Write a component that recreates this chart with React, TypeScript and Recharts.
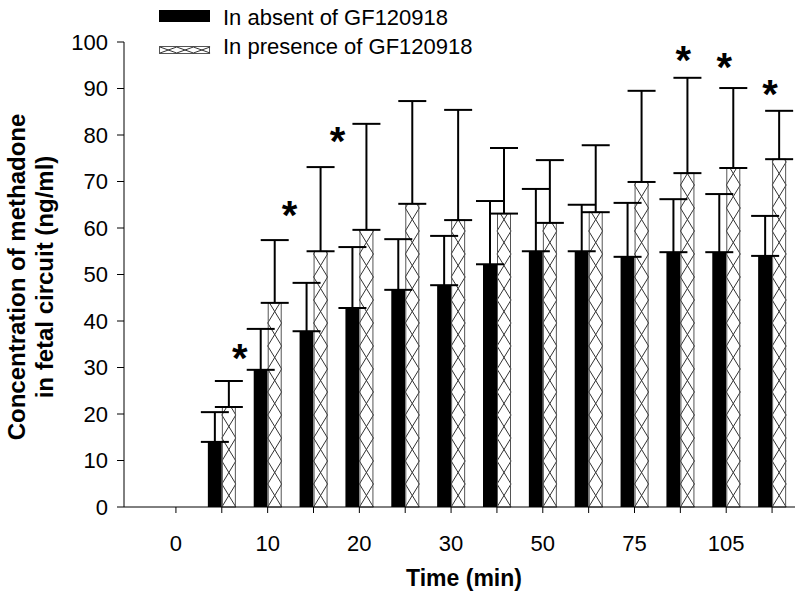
import React from 'react'
import { BarChart, Bar, XAxis, YAxis, ErrorBar, ReferenceDot } from 'recharts'

// sampling times (min), only every other one gets a label
const times = ['0', '5', '10', '15', '20', '25', '30', '40', '50', '60', '75', '90', '105', '120']
const tickLabels = ['0', '10', '20', '30', '50', '75', '105']
const yTicks = [0, 10, 20, 30, 40, 50, 60, 70, 80, 90, 100]

// means and SD (ng/ml)
const absentMean = [null, 14, 29.5, 37.8, 42.8, 46.7, 47.7, 52.2, 55, 55, 53.8, 54.8, 54.8, 54]
const absentSd = [null, 6.4, 8.8, 10.4, 13.1, 10.9, 10.6, 13.6, 13.4, 10, 11.6, 11.4, 12.5, 8.6]
const presenceMean = [null, 21.5, 43.9, 55, 59.6, 65.2, 61.7, 63.1, 61.1, 63.4, 69.9, 71.8, 72.9, 74.8]
const presenceSd = [null, 5.6, 13.5, 18.1, 22.8, 22.1, 23.7, 14.1, 13.5, 14.4, 19.6, 20.5, 17.2, 10.4]

// significance marks: time and height of the asterisk
const sigTimes = ['5', '10', '15', '90', '105', '120']
const sigLevels = [34, 64.7, 80.6, 98.1, 96.6, 90.8]
const sigNudge = [18, 22, 24, 3, -2, -2]

const data = times.map((t, i) => ({
  time: t,
  absent: absentMean[i],
  presence: presenceMean[i],
  absentErr: absentSd[i] == null ? null : [0, absentSd[i]],
  presenceErr: presenceSd[i] == null ? null : [0, presenceSd[i]],
}))

const FONT = '"Liberation Sans", Arial, Helvetica, sans-serif'

function crossHatch(x: number, y: number, w: number, h: number, step: number) {
  const bottom = y + h
  let d = ''
  for (let y0 = bottom; y0 > y + 0.01; y0 -= step) {
    const y1 = Math.max(y, y0 - step)
    const t = (y0 - y1) / step
    d += `M${x},${y0}L${x + t * w},${y1}M${x + w},${y0}L${x + w - t * w},${y1}`
  }
  return d
}

function HatchedBar(props: any) {
  const { x, y, width, height } = props
  if (!height || height <= 0) return null
  return (
    <g>
      <rect x={x} y={y} width={width} height={height} fill="#fff" />
      <path d={crossHatch(x, y, width, height, 23)} stroke="#333" strokeWidth={1} fill="none" />
      <rect x={x + 0.5} y={y} width={width - 1} height={height} fill="none" stroke="#555" strokeWidth={1} />
    </g>
  )
}

function TimeTick(props: any) {
  const { x, y, payload } = props
  if (!tickLabels.includes(payload.value)) return null
  return (
    <text x={x} y={y} dy="0.71em" textAnchor="middle" fontSize={22} fill="#000" fontFamily={FONT}>
      {payload.value}
    </text>
  )
}

function YTitle(props: any) {
  const cy = 277
  return (
    <g fontFamily={FONT} fontWeight="bold" fontSize={24} fill="#000">
      <text transform={`translate(25,${cy}) rotate(-90)`} textAnchor="middle">Concentration of methadone</text>
      <text transform={`translate(53,${cy}) rotate(-90)`} textAnchor="middle">in fetal circuit (ng/ml)</text>
    </g>
  )
}

function XTitle(props: any) {
  return (
    <text x={464} y={586} textAnchor="middle" fontFamily={FONT} fontWeight="bold" fontSize={23} fill="#000">
      Time (min)
    </text>
  )
}

function Star(props: any) {
  const { cx, cy, nudge } = props
  return (
    <text x={cx + nudge} y={cy + 23} textAnchor="middle" fontFamily={FONT} fontWeight="bold" fontSize={40} fill="#000">
      *
    </text>
  )
}

function LegendBox() {
  return (
    <svg width={800} height={70} style={{ position: 'absolute', left: 0, top: 0 }}>
      <rect x={159} y={10} width={51} height={12} fill="#000" />
      <text x={223} y={25} fontFamily={FONT} fontSize={22} fill="#000">In absent of GF120918</text>
      <rect x={159.5} y={46.5} width={50} height={7} fill="#fff" stroke="#555" />
      <path
        d={[0, 1, 2].map((k) => {
          const x0 = 160 + k * 16.7
          return `M${x0},47L${x0 + 16.7},53M${x0 + 16.7},47L${x0},53`
        }).join('')}
        stroke="#333"
        fill="none"
      />
      <text x={223} y={54} fontFamily={FONT} fontSize={22} fill="#000">In presence of GF120918</text>
    </svg>
  )
}

export default function App() {
  return (
    <div style={{ position: 'absolute', left: 0, top: 0, width: 800, height: 595, background: '#fff' }}>
      <BarChart
        width={800}
        height={595}
        data={data}
        margin={{ top: 42, right: 5, bottom: 0, left: 64 }}
        barGap={0}
      >
        <XAxis
          dataKey="time"
          interval={0}
          height={88}
          padding={{ left: 29, right: 0 }}
          axisLine={{ stroke: '#000' }}
          tickLine={{ stroke: '#000' }}
          tickSize={6}
          tickMargin={22}
          tick={<TimeTick />}
          label={{ content: <XTitle /> }}
        />
        <YAxis
          type="number"
          domain={[0, 100]}
          ticks={yTicks}
          width={60}
          axisLine={{ stroke: '#000' }}
          tickLine={{ stroke: '#000' }}
          tickSize={7}
          tickMargin={9}
          tick={{ fill: '#000', fontSize: 22, fontFamily: FONT }}
          label={{ content: <YTitle /> }}
        />
        <Bar dataKey="absent" fill="#000" barSize={14} isAnimationActive={false}>
          <ErrorBar dataKey="absentErr" width={14} strokeWidth={2} stroke="#000" />
        </Bar>
        <Bar dataKey="presence" barSize={14} shape={<HatchedBar />} isAnimationActive={false}>
          <ErrorBar dataKey="presenceErr" width={14} strokeWidth={2} stroke="#000" />
        </Bar>
        {sigTimes.map((t, i) => (
          <ReferenceDot
            key={t}
            x={t}
            y={sigLevels[i]}
            r={0}
            shape={<Star nudge={sigNudge[i]} />}
          />
        ))}
      </BarChart>
      <LegendBox />
    </div>
  )
}
